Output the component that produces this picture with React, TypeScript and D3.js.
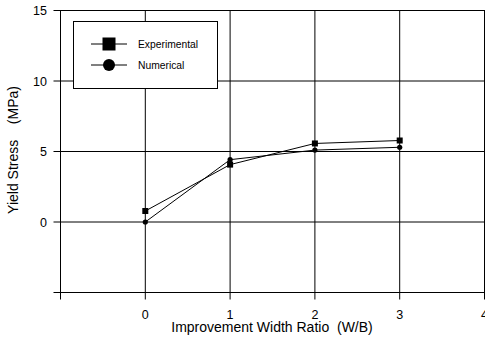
import React from 'react'
import * as d3 from 'd3'

const widthRatios = [0, 1, 2, 3]
const experimental = [0.78, 4.07, 5.57, 5.78]
const numerical = [0, 4.42, 5.1, 5.3]
const xTicks = [-1, 0, 1, 2, 3, 4]
const yTicks = [-5, 0, 5, 10, 15]
const seriesNames = ['Experimental', 'Numerical']

const W = 485
const H = 339

export default function App() {
  const x = d3.scaleLinear().domain([-1, 4]).range([60.5, 484.5])
  const y = d3.scaleLinear().domain([-5, 15]).range([292.5, 10.5])
  const font = 'Arial, "Liberation Sans", sans-serif'

  const line = d3
    .line<number>()
    .x((_, i) => x(widthRatios[i]))
    .y((d) => y(d))

  return (
    <svg width={W} height={H} style={{ position: 'absolute', left: 0, top: 0, background: '#fff' }}>
      {/* grid */}
      {xTicks.map((t) => (
        <line key={'gx' + t} x1={x(t)} x2={x(t)} y1={y(15)} y2={y(-5) + 7} stroke="#000" strokeWidth={1} />
      ))}
      {yTicks.map((t) => (
        <line key={'gy' + t} x1={x(-1) - 7} x2={W} y1={y(t)} y2={y(t)} stroke="#000" strokeWidth={1} />
      ))}

      {/* tick labels */}
      {xTicks
        .filter((t) => t >= 0)
        .map((t) => (
          <text key={'lx' + t} x={x(t)} y={318.5} textAnchor="middle" fontFamily={font} fontSize={12.5}>
            {t}
          </text>
        ))}
      {yTicks
        .filter((t) => t >= 0)
        .map((t) => (
          <text key={'ly' + t} x={47} y={y(t) + 4.5} textAnchor="end" fontFamily={font} fontSize={12.5}>
            {t}
          </text>
        ))}

      {/* axis titles */}
      <text x={272} y={331.5} textAnchor="middle" fontFamily={font} fontSize={14} style={{ whiteSpace: 'pre' }}>
        {'Improvement Width Ratio  (W/B)'}
      </text>
      <text
        transform="translate(18,150) rotate(-90)"
        textAnchor="middle"
        fontFamily={font}
        fontSize={14}
        style={{ whiteSpace: 'pre' }}
      >
        {'Yield Stress    (MPa)'}
      </text>

      {/* series */}
      <path d={line(experimental) || ''} fill="none" stroke="#000" strokeWidth={1} />
      <path d={line(numerical) || ''} fill="none" stroke="#000" strokeWidth={1} />
      {experimental.map((v, i) => (
        <rect key={'e' + i} x={x(widthRatios[i]) - 3} y={y(v) - 3} width={6} height={6} fill="#000" />
      ))}
      {numerical.map((v, i) => (
        <circle key={'n' + i} cx={x(widthRatios[i])} cy={y(v)} r={2.6} fill="#000" />
      ))}

      {/* legend */}
      <rect x={73.5} y={21.5} width={144} height={67} fill="#fff" stroke="#000" strokeWidth={1} />
      {seriesNames.map((name, i) => {
        const ly = 44 + i * 21
        return (
          <g key={name}>
            <line x1={91} x2={127} y1={ly} y2={ly} stroke="#000" strokeWidth={1} />
            {i === 0 ? (
              <rect x={109 - 6.5} y={ly - 6.5} width={13} height={13} fill="#000" />
            ) : (
              <circle cx={109} cy={ly} r={6} fill="#000" />
            )}
            <text x={138} y={ly + 3.5} fontFamily={font} fontSize={10.3}>
              {name}
            </text>
          </g>
        )
      })}
    </svg>
  )
}
